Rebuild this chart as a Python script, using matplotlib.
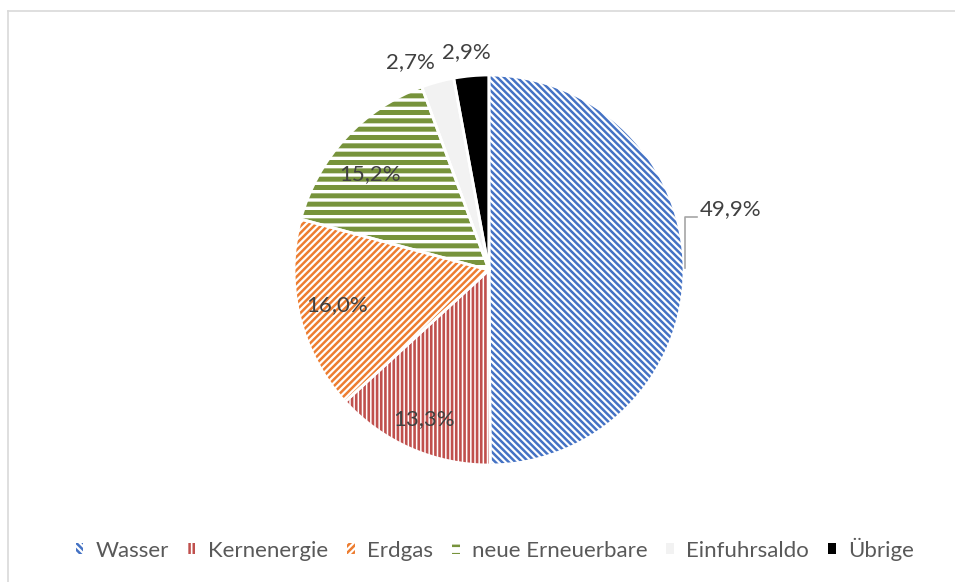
import numpy as np
import matplotlib.pyplot as plt
from matplotlib.lines import Line2D

# Daten (Anteile in %)
labels = ["Wasser", "Kernenergie", "Erdgas", "neue Erneuerbare", "Einfuhrsaldo", "Übrige"]
values = [49.9, 13.3, 16.0, 15.2, 2.7, 2.9]
value_texts = ["49,9%", "13,3%", "16,0%", "15,2%", "2,7%", "2,9%"]

colors = ["#4472C4", "#C0504D", "#ED7D31", "#77933C", "#F2F2F2", "#000000"]
hatches = ["\\" * 5, "||||", "/////", "--", None, None]
hatch_lw = [1.8, 1.9, 1.8, 3.6, 1.0, 1.0]

plt.rcParams['font.family'] = ['Lato', 'DejaVu Sans']
plt.rcParams['hatch.linewidth'] = 1.8

W, H = 955, 582
fig = plt.figure(figsize=(W/100, H/100), dpi=100)

# Rahmen (nur oben/links sichtbar)
fig.add_artist(Line2D([8/W, 8/W], [0, 1-11/H], color="#D9D9D9", lw=1.2, transform=fig.transFigure))
fig.add_artist(Line2D([8/W, 1], [1-11/H, 1-11/H], color="#D9D9D9", lw=1.2, transform=fig.transFigure))

cx, cy, R = 489, 270, 195
ax = fig.add_axes([(cx-R)/W, (H-cy-R)/H, 2*R/W, 2*R/H])

wedges, _ = ax.pie(values, startangle=90, counterclock=False, radius=1,
                   wedgeprops=dict(linewidth=0))
for w, c, h, lw in zip(wedges, colors, hatches, hatch_lw):
    if h:
        w.set_facecolor("white")
        w.set_edgecolor(c)
        w.set_hatch(h)
        if hasattr(w, "set_hatch_linewidth"):
            w.set_hatch_linewidth(lw)
    else:
        w.set_facecolor(c)
        w.set_edgecolor(c)
    w.set_linewidth(0)

# weisse Trennlinien
ax.pie(values, startangle=90, counterclock=False, radius=1,
       wedgeprops=dict(fill=False, edgecolor="white", linewidth=2.0))
ax.set_xlim(-1, 1)
ax.set_ylim(-1, 1)
ax.set_aspect('equal')
ax.axis('off')

# Beschriftungen
cum = np.cumsum([0] + values)
mids = 90 - (cum[:-1] + cum[1:]) / 2 * 3.6
lab_r = [None, 0.834, 0.80, 0.785, 1.14, 1.125]
lab_da = [0, 0, -0.8, 3.6, 5.5, 0.8]
for i in range(1, len(values)):
    a = np.deg2rad(mids[i] + lab_da[i])
    ax.text(lab_r[i]*np.cos(a), lab_r[i]*np.sin(a), value_texts[i], ha="center", va="center",
            fontsize=16, color="#404040")

# 49,9% mit Fuehrungslinie
ax.plot([1.005, 1.005, 1.067], [0.01, 0.272, 0.272], color="#A6A6A6", lw=1.2, clip_on=False)
ax.text(1.082, 0.31, value_texts[0], ha="left", va="center", fontsize=16, color="#404040")

leg = fig.legend(wedges, labels, loc="center", bbox_to_anchor=(0.518, 1-549/H), ncol=6, frameon=False,
                 fontsize=16, handlelength=0.35, handleheight=0.35, handletextpad=0.55, columnspacing=0.85,
                 labelcolor="#595959")

fig.savefig("out.png", dpi=100)
